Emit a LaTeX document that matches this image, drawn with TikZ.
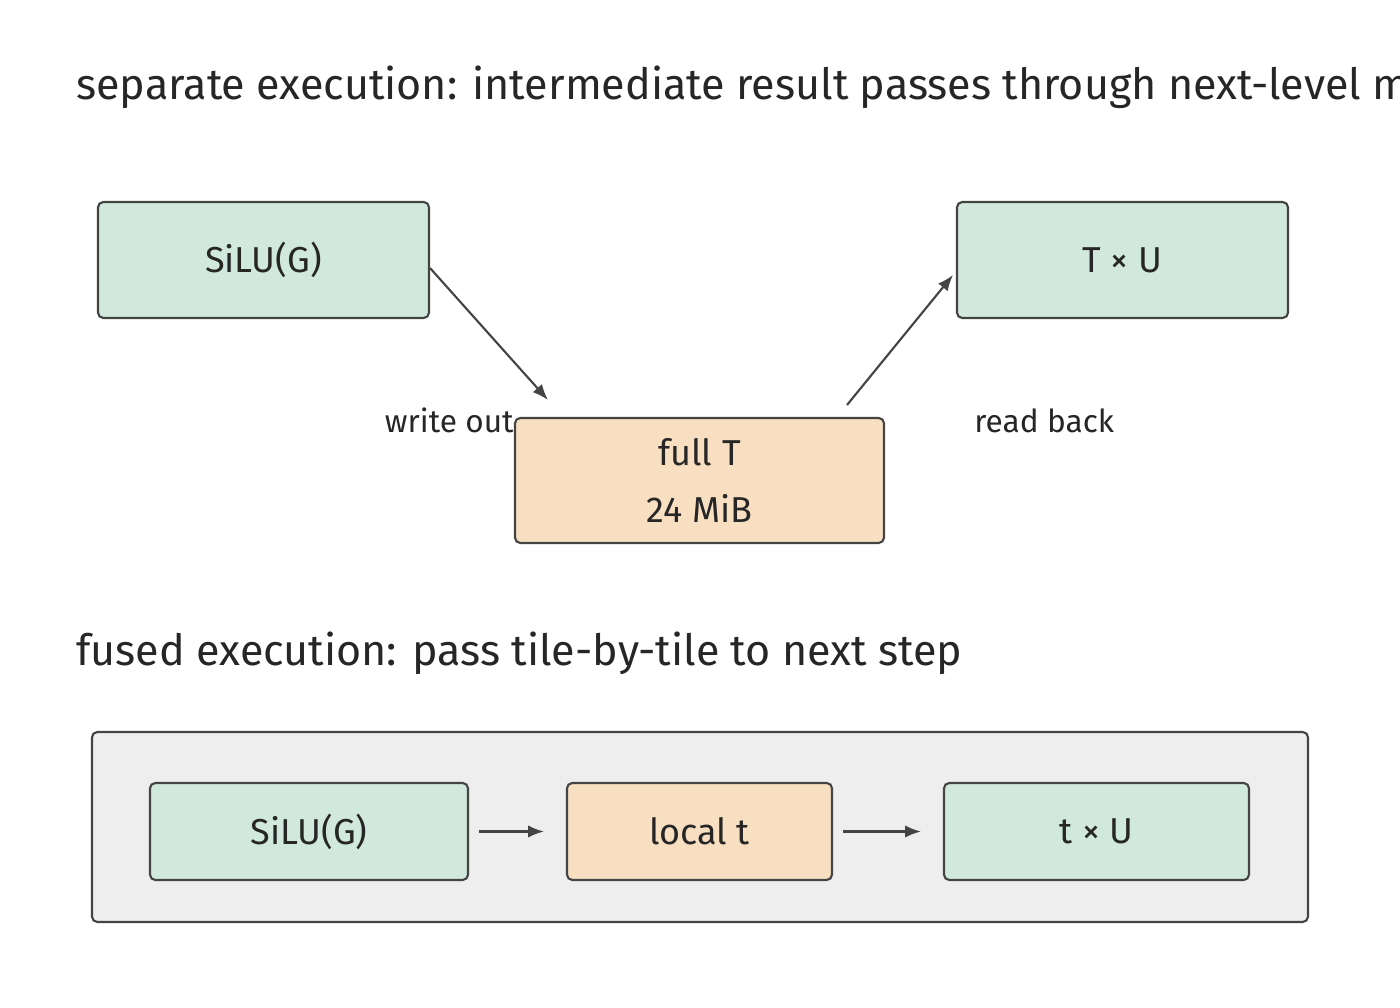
\documentclass[tikz,border=0pt]{standalone}
\usepackage{fontspec}
\setmainfont{Fira Sans}
\usetikzlibrary{positioning,arrows.meta}
\definecolor{boxgreen}{HTML}{D1E8DC}
\definecolor{boxorange}{HTML}{F8DFC1}
\definecolor{boxgray}{HTML}{EEEEEE}
\definecolor{edgegray}{HTML}{444444}

\begin{document}
\begin{tikzpicture}[>={Latex[length=9pt,width=7pt]}]
	\tikzset{step box/.style = {rectangle, draw=edgegray, line width=1.2pt, rounded corners=3pt, font=\fontsize{20.5}{24}\selectfont, text=black!85, align=center}}
	\tikzset{green box/.style = {step box, fill=boxgreen}}
	\tikzset{orange box/.style = {step box, fill=boxorange}}
	\tikzset{flow/.style = {->, edgegray, line width=1.2pt}}
	\tikzset{title/.style = {anchor=base west, font=\fontsize{24.5}{28}\selectfont, text=black!85, inner sep=0}}
	\tikzset{note/.style = {font=\fontsize{18}{21}\selectfont, text=black!85, inner sep=0}}
	\clip (0,0) rectangle (28,-20.16);
	\useasboundingbox (0,0) rectangle (28,-20.16);
	\fill[white] (0,0) rectangle (28,-20.16);
	% separate execution
	\node[title] (t1) at (1.52,-2.0) {separate execution: intermediate result passes through next-level memory};
	\node [green box, minimum width=6.62cm, minimum height=2.32cm] (silu) at (5.27,-5.2) {SiLU(G)};
	\node [green box, minimum width=6.62cm, minimum height=2.32cm] (mul) at (22.45,-5.2) {T \char"D7{} U};
	\node [orange box, minimum width=7.38cm, minimum height=2.5cm] (full) at (13.99,-9.61) {full T\\[8pt]24 MiB};
	\coordinate (a1) at (8.6,-5.36);
	\coordinate (a2) at (10.96,-8.0);
	\coordinate (b1) at (16.94,-8.1);
	\coordinate (b2) at (19.06,-5.5);
	\draw [flow] (a1) -- (a2);
	\draw [flow] (b1) -- (b2);
	\node[note, anchor=base east] (wo) at (10.28,-8.66) {write out};
	\node[note, anchor=base west] (rb) at (19.48,-8.66) {read back};
	% fused execution
	\node[title] (t2) at (1.52,-13.3) {fused execution: pass tile-by-tile to next step};
	\draw [edgegray, fill=boxgray, line width=1.2pt, rounded corners=3pt] (1.84,-14.64) rectangle (26.16,-18.44);
	\node [green box, minimum width=6.36cm, minimum height=1.94cm] (fsilu) at (6.18,-16.63) {SiLU(G)};
	\node [orange box, minimum width=5.3cm, minimum height=1.94cm] (loc) at (13.99,-16.63) {local t};
	\node [green box, minimum width=6.1cm, minimum height=1.94cm] (fmul) at (21.93,-16.63) {t \char"D7{} U};
	\draw [flow, shorten <=0.2cm, shorten >=0.44cm] (fsilu) -- (loc);
	\draw [flow, shorten <=0.2cm, shorten >=0.44cm] (loc) -- (fmul);
\end{tikzpicture}
\end{document}
